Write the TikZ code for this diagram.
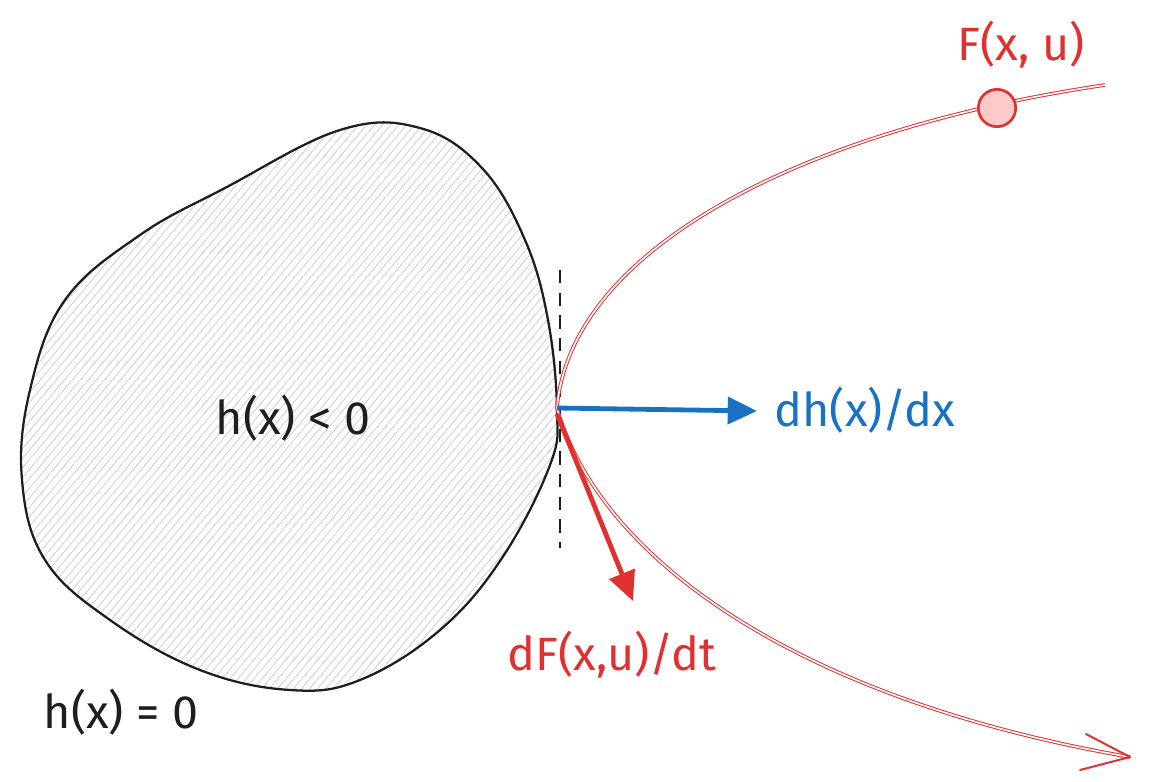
\documentclass[tikz,border=0pt]{standalone}
\usepackage{fontspec}
\setmainfont{Fira Sans}
\usetikzlibrary{arrows.meta,patterns.meta}
\definecolor{inkblack}{HTML}{1E1E1E}
\definecolor{inkblue}{HTML}{1971C2}
\definecolor{inkred}{HTML}{E03131}
\definecolor{pinkfill}{HTML}{FFC9C9}
\definecolor{hatch}{HTML}{C4C8CC}
\tikzset{
  lbl/.style={font=\fontsize{35}{40}\selectfont, inner sep=0pt},
  blobline/.style={draw=inkblack, line width=1.7pt, line join=round},
  thickarrow/.style={line width=3.6pt, -{Triangle[length=22pt,width=20pt]}},
  trajectory/.style={draw=inkred, line width=0.75pt, double=white, double distance=1.2pt},
  barb/.style={draw=inkred, line width=1.5pt, line cap=round, line join=round},
  statept/.style={circle, draw=inkred, fill=pinkfill, line width=2pt, minimum size=28pt, inner sep=0pt},
  tangentline/.style={draw=inkblack, line width=1.5pt, dash pattern=on 10pt off 7pt}
}
\begin{document}
\begin{tikzpicture}[x=0.75pt,y=-0.75pt]
\useasboundingbox (0,0) rectangle (1151,781);
% safe set (hatched blob)
\path[pattern={Lines[angle=50,distance=4.6pt,line width=0.5pt]}, pattern color=hatch]
  plot[smooth cycle, tension=0.65] coordinates {(557,410) (550,465) (502,558) (440,630) (360,680) (290,690) (200,670) (110,620) (45,560) (22,480) (30,390) (65,300) (140,235) (225,188) (340,130) (420,128) (482,168) (525,240) (548,320)};
\draw[blobline]
  plot[smooth cycle, tension=0.65] coordinates {(557,410) (550,465) (502,558) (440,630) (360,680) (290,690) (200,670) (110,620) (45,560) (22,480) (30,390) (65,300) (140,235) (225,188) (340,130) (420,128) (482,168) (525,240) (548,320)};
% tangent line
\coordinate (dashTop) at (560,270);
\coordinate (dashBot) at (560,548);
\draw[tangentline] (dashTop) -- (dashBot);
% coordinates
\coordinate (T) at (557,408);
\coordinate (Tlow) at (557,414);
\coordinate (trajTop) at (1105,85);
\coordinate (tip) at (1130,757);
\coordinate (barbA) at (1086,734);
\coordinate (barbB) at (1080,770);
\coordinate (blueEnd) at (757,411);
\coordinate (redEnd) at (633,601);
% trajectory
\draw[trajectory] (trajTop) .. controls (800,130) and (570,250) .. (T)
   .. controls (600,560) and (800,700) .. (tip);
\draw[barb] (barbA) -- (tip) -- (barbB);
\node[statept] (P) at (997,108) {};
% gradient arrows
\draw[thickarrow, draw=inkblue, fill=inkblue] (T) -- (blueEnd);
\draw[thickarrow, draw=inkred, fill=inkred] (Tlow) -- (redEnd);
% labels
\node[lbl, text=inkblack] (hin) at (293,418) {h(x) < 0};
\node[lbl, text=inkblack] (hzero) at (121,712) {h(x) = 0};
\node[lbl, text=inkblue] (dh) at (865,410) {dh(x)/dx};
\node[lbl, text=inkred] (dF) at (612,655) {dF(x,u)/dt};
\node[lbl, text=inkred] (F) at (1021,45) {F(x, u)};
\end{tikzpicture}
\end{document}
